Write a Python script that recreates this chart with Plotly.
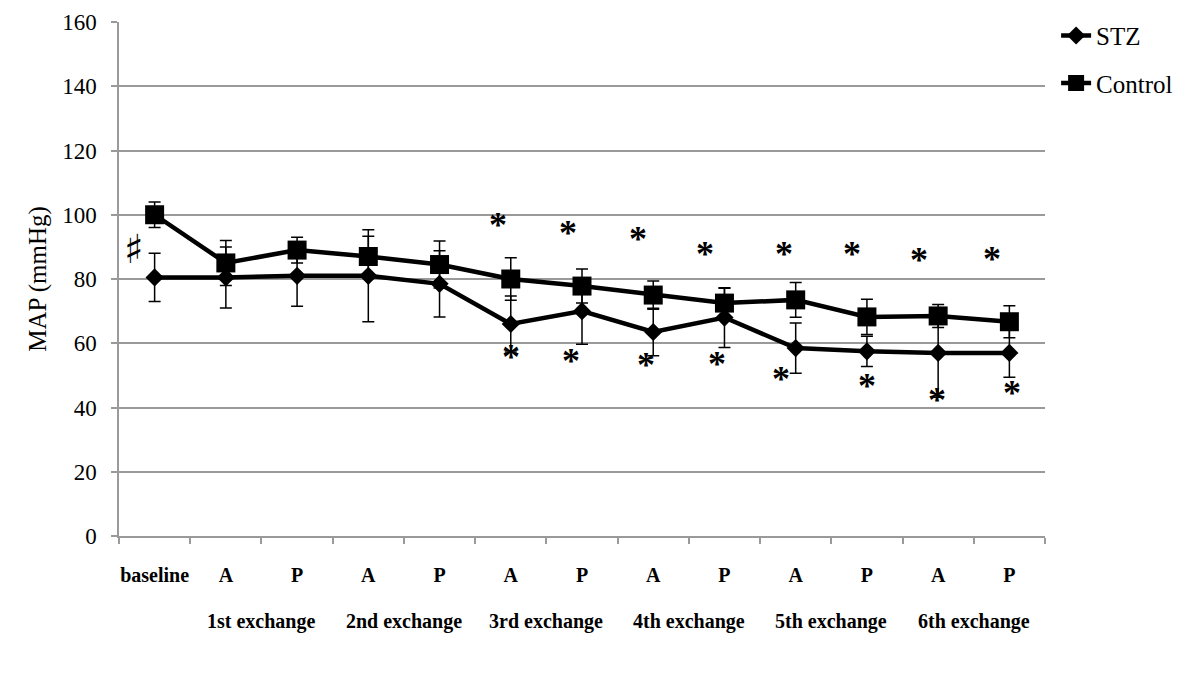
import plotly.graph_objects as go

categories = ["baseline", "A", "P", "A", "P", "A", "P", "A", "P", "A", "P", "A", "P"]
exchange_labels = ["1st exchange", "2nd exchange", "3rd exchange",
                   "4th exchange", "5th exchange", "6th exchange"]

stz = [80.5, 80.5, 81, 81, 78.5, 66, 70, 63.5, 68, 58.5, 57.5, 57, 57]
stz_err = [7.5, 9.5, 9.5, 14.3, 10.3, 8.7, 10.3, 7.4, 9.3, 7.8, 4.7, 13.8, 7.6]
control = [100, 85, 89, 87, 84.5, 80, 77.8, 75, 72.5, 73.5, 68.2, 68.5, 66.7]
control_err = [4, 7, 4, 6.3, 7.3, 6.6, 5.3, 4.4, 4.6, 5.4, 5.5, 3.6, 5]

# significance marks (category index, value, offset in category units)
sig_upper_idx = [5, 6, 7, 8, 9, 10, 11, 12]
sig_upper_y = [99.1, 96.4, 94.7, 89.9, 89.9, 89.9, 88.2, 88.5]
sig_upper_dx = [-0.18, -0.2, -0.22, -0.27, -0.17, -0.21, -0.27, -0.24]
sig_lower_idx = [5, 6, 7, 8, 9, 10, 11, 12]
sig_lower_y = [57.9, 56.6, 55.4, 55.6, 51, 48.9, 44.4, 46.8]
sig_lower_dx = [0, -0.15, -0.1, -0.1, -0.21, 0, -0.02, 0.04]
hash_idx, hash_y, hash_dx = 0, 89.3, -0.3

x = list(range(len(categories)))
serif = "Liberation Serif"

fig = go.Figure()
fig.add_trace(go.Scatter(
    x=x, y=stz, name="STZ", mode="lines+markers", legendgroup="stz",
    line=dict(color="black", width=4.5),
    marker=dict(symbol="diamond", size=14, color="black"),
    error_y=dict(type="data", array=stz_err, visible=True, color="black",
                 thickness=1.5, width=6),
))
fig.add_trace(go.Scatter(
    x=x, y=control, name="Control", mode="lines+markers", legendgroup="ctrl",
    line=dict(color="black", width=4.5),
    marker=dict(symbol="square", size=19, color="black"),
    error_y=dict(type="data", array=control_err, visible=True, color="black",
                 thickness=1.5, width=6),
))

annotations = []
for idxs, ys, dxs in ((sig_upper_idx, sig_upper_y, sig_upper_dx),
                      (sig_lower_idx, sig_lower_y, sig_lower_dx)):
    for i, yv, dx in zip(idxs, ys, dxs):
        annotations.append(dict(x=i + dx, y=yv, xref="x", yref="y", text="<b>*</b>",
                                showarrow=False, yshift=-7,
                                font=dict(family=serif, size=36, color="black")))
annotations.append(dict(x=hash_idx + hash_dx, y=hash_y, xref="x", yref="y", text="♯",
                        showarrow=False,
                        font=dict(family="DejaVu Sans", size=40, color="black")))
for k, lab in enumerate(exchange_labels):
    annotations.append(dict(x=1.5 + 2 * k, y=0, xref="x", yref="paper",
                            text="<b>" + lab + "</b>",
                            showarrow=False, yshift=-85, yanchor="middle",
                            font=dict(family=serif, size=20, color="black")))

# the page body has an 8px margin; compensate so the plot sits where the reference's does
fig.update_layout(
    width=1200, height=683,
    margin=dict(l=111, r=163, t=14, b=155, autoexpand=False),
    paper_bgcolor="white", plot_bgcolor="white",
    showlegend=True,
    legend=dict(x=1.012, xanchor="left", y=1.018, yanchor="top",
                font=dict(family=serif, size=25, color="black"),
                tracegroupgap=12, bgcolor="rgba(0,0,0,0)"),
    annotations=annotations,
    font=dict(family=serif, color="black"),
)
fig.update_xaxes(
    range=[-0.5, 12.5], tickmode="array", tickvals=x,
    ticktext=["<b>" + c + "</b>" for c in categories],
    tickfont=dict(family=serif, size=20, color="black"),
    ticks="", ticklabelstandoff=20,
    showgrid=False, zeroline=False, automargin=False,
    showline=True, linecolor="#9a9a9a", linewidth=1.5,
    minor=dict(tickmode="linear", tick0=-0.5, dtick=1, ticks="outside",
               ticklen=6, tickcolor="#9a9a9a", tickwidth=1.5, showgrid=False),
)
fig.update_yaxes(
    range=[0, 160], tickmode="linear", tick0=0, dtick=20,
    tickfont=dict(family=serif, size=23, color="black"),
    ticks="outside", ticklen=6, tickcolor="#9a9a9a", tickwidth=1.5,
    ticklabelstandoff=10, automargin=False, ticklabeloverflow="allow",
    showgrid=True, gridcolor="#9a9a9a", gridwidth=1.5,
    zeroline=False, showline=True, linecolor="#9a9a9a", linewidth=1.5,
    title=dict(text="MAP (mmHg)", font=dict(family=serif, size=25, color="black"),
               standoff=8),
)

fig.write_html("out.html")
